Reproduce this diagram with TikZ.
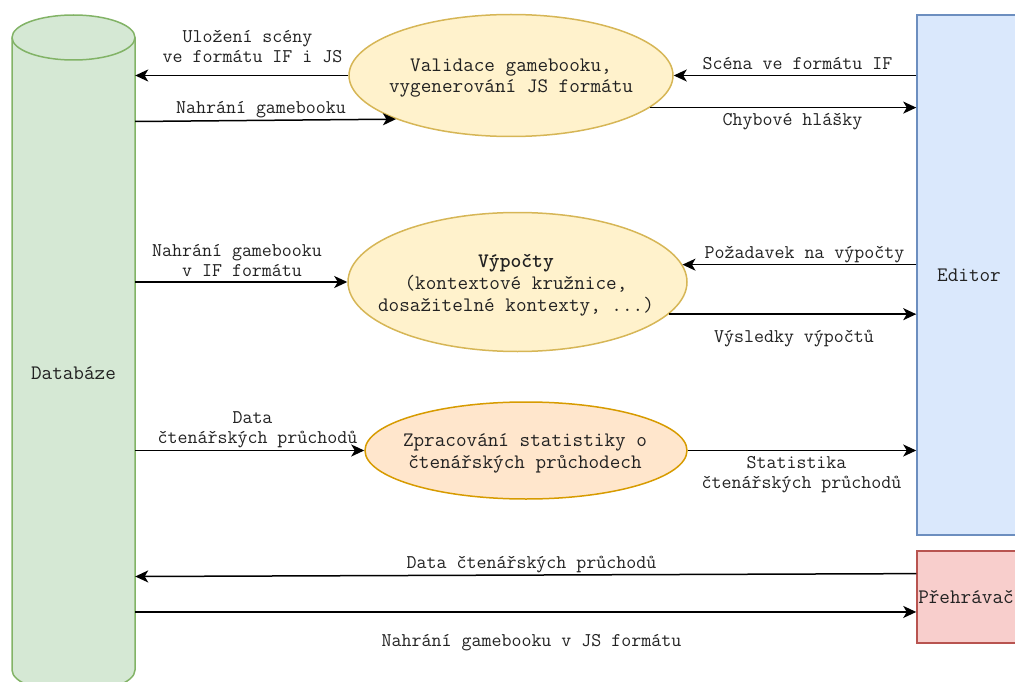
\documentclass[tikz,border=0pt]{standalone}
\usepackage{fontspec}
\usetikzlibrary{arrows.meta,shapes.geometric,calc}

\definecolor{dbfill}{HTML}{D5E8D4}
\definecolor{dbline}{HTML}{82B366}
\definecolor{edfill}{HTML}{DAE8FC}
\definecolor{edline}{HTML}{6C8EBF}
\definecolor{plfill}{HTML}{F8CECC}
\definecolor{plline}{HTML}{B85450}
\definecolor{procfill}{HTML}{FFF2CC}
\definecolor{procline}{HTML}{D6B656}
\definecolor{statfill}{HTML}{FFE6CC}
\definecolor{statline}{HTML}{D79B00}
\definecolor{ink}{HTML}{222222}

\begin{document}
\begin{tikzpicture}[x=1pt, y=-1pt,
  lbl/.style={font={\ttfamily\fontsize{19.4}{20}\selectfont\lineskiplimit=-100pt},
    text=ink, align=center, inner sep=0pt},
  txt/.style={font={\ttfamily\fontsize{20.6}{21.8}\selectfont\lineskiplimit=-100pt},
    text=ink, align=center, inner sep=0pt},
  proc/.style={ellipse, draw=procline, fill=procfill, line width=1.5pt, inner sep=0pt},
  stat/.style={ellipse, draw=statline, fill=statfill, line width=1.5pt, inner sep=0pt},
  box/.style={rectangle, txt, line width=1.5pt, inner sep=0pt, minimum width=104pt},
  flow/.style={line width=1.5pt, -{Stealth[length=13pt,width=12pt,inset=3.5pt]}},
]
\useasboundingbox (0,0) rectangle (1015,682);
\clip (0,0) rectangle (1015,682);

% database cylinder
\path[draw=dbline, fill=dbfill, line width=1.5pt]
  (12,37.5) -- (12,670)
  arc[start angle=180, end angle=360, x radius=61.5pt, y radius=22.5pt]
  -- (135,37.5)
  arc[start angle=0, end angle=180, x radius=61.5pt, y radius=22.5pt] -- cycle;
\draw[dbline, line width=1.5pt] (12,37.5)
  arc[start angle=180, end angle=360, x radius=61.5pt, y radius=22.5pt];
\node[txt, minimum width=123pt, minimum height=600pt] (db) at (73.5,373) {Databáze};

% editor and player
\node[box, draw=edline, fill=edfill, minimum height=520pt] (ed) at (969,275) {Editor};
\node[box, draw=plline, fill=plfill, minimum height=92pt] (pl) at (969,597) {Přehrávač\rule{6pt}{0pt}};

% processes
\node[proc, minimum width=324pt, minimum height=122pt] (v1) at (511,75.5) {};
\node[txt] at (511,78) {Validace gamebooku,\\vygenerování JS formátu};
\node[proc, minimum width=339pt, minimum height=139pt] (v2) at (517.5,282) {};
\node[txt] at (516,285) {\textbf{Výpočty}\\(kontextové kružnice,\\dosažitelné kontexty, ...)};
\node[stat, minimum width=322pt, minimum height=97pt] (v3) at (526,450.5) {};
\node[txt] at (525,453.5) {Zpracování statistiky o\\čtenářských průchodech};

% data flows
\draw[flow] (v1.west) -- (v1.west -| db.east);
\draw[flow] (db.east |- 0,121.5) -- (v1.south west);
\draw[flow] (ed.west |- v1.east) -- (v1.east);
\draw[flow] (v1.-13) -- (v1.-13 -| ed.west);

\draw[flow] (db.east |- v2.west) -- (v2.west);
\draw[flow] (ed.west |- v2.6) -- (v2.6);
\draw[flow] (v2.-12) -- (v2.-12 -| ed.west);

\draw[flow] (db.east |- v3.west) -- (v3.west);
\draw[flow] (v3.east) -- (v3.east -| ed.west);

\coordinate (plin) at ($(pl.north west)!0.25!(pl.south west)$);
\coordinate (plout) at ($(pl.north west)!0.66!(pl.south west)$);
\draw[flow] (plin) -- (db.east |- 0,576.5);
\draw[flow] (db.east |- plout) -- (plout);

% flow labels
\node[lbl] at (252.5,46) {Uložení scény\hphantom{x}\\ve formátu IF i JS};
\node[lbl] at (261,109.5) {Nahrání gamebooku};
\node[lbl] at (797.5,64) {Scéna ve formátu IF};
\node[lbl] at (792.5,122) {Chybové hlášky};
\node[lbl] at (242,260.5) {Nahrání gamebooku\hphantom{x}\\v IF formátu};
\node[lbl] at (804.5,254.5) {Požadavek na výpočty};
\node[lbl] at (794,338.5) {Výsledky výpočtů};
\node[lbl] at (257.5,429.5) {Data\hphantom{x}\\čtenářských průchodů};
\node[lbl] at (801.5,475) {Statistika\hphantom{x}\\čtenářských průchodů};
\node[lbl] at (531.5,564.5) {Data čtenářských průchodů};
\node[lbl] at (531.5,642.5) {Nahrání gamebooku v JS formátu};
\end{tikzpicture}
\end{document}
